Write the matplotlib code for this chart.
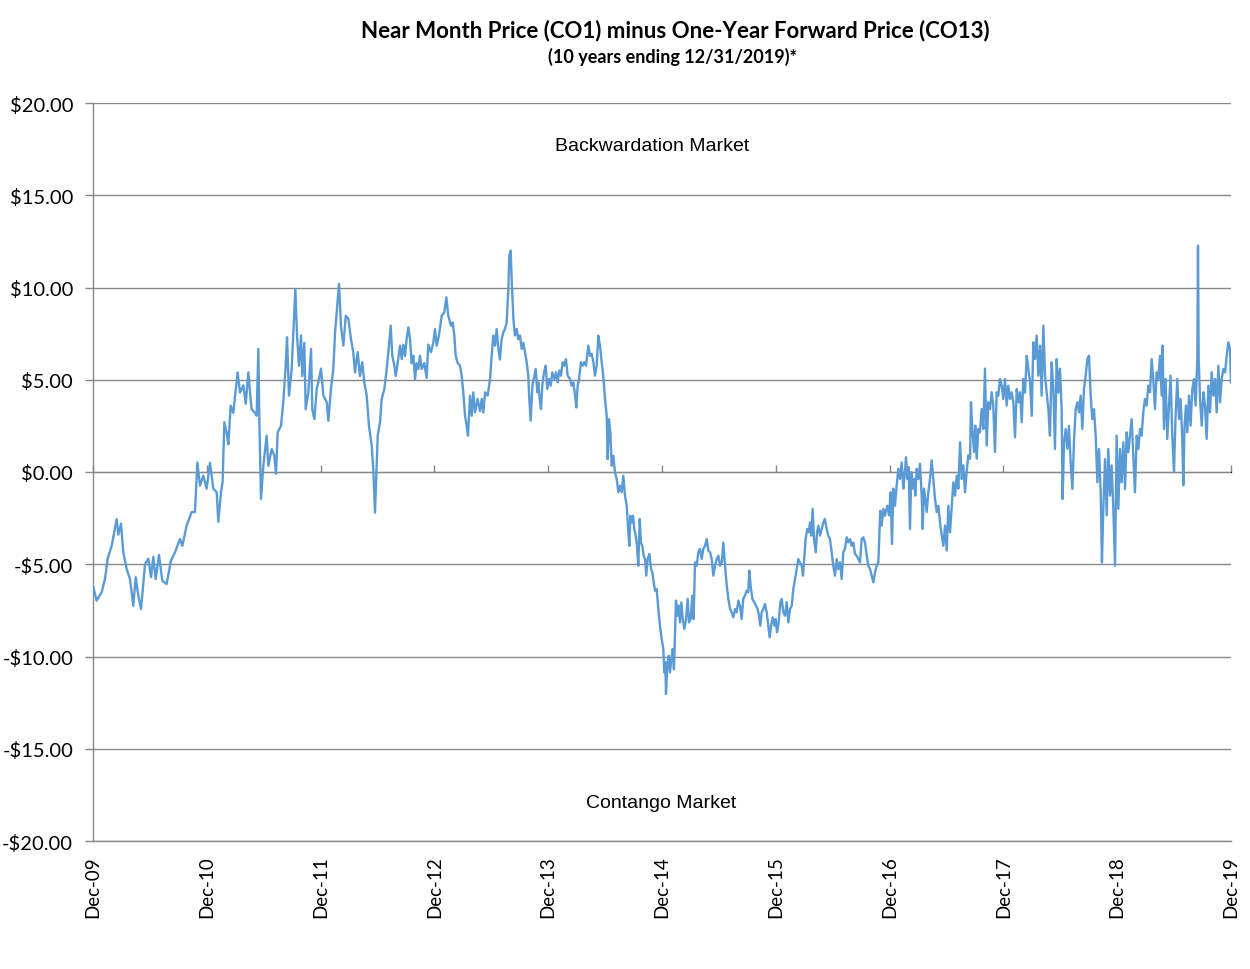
import matplotlib
matplotlib.use("Agg")
import matplotlib.pyplot as plt
import numpy as np

# ---------------- data (years since Dec-09, spread in $) ----------------
t_2010 = [0.000, 0.032, 0.076, 0.105, 0.129, 0.164, 0.208, 0.222, 0.246, 0.266,
          0.296, 0.325, 0.354, 0.375, 0.398, 0.422, 0.457, 0.486, 0.510, 0.530,
          0.551, 0.580, 0.609, 0.647, 0.685, 0.721, 0.764, 0.785, 0.823, 0.867,
          0.896, 0.917, 0.940, 0.969, 0.999, 1.028, 1.057, 1.087, 1.101, 1.125,
          1.139, 1.154, 1.175, 1.189, 1.210, 1.233]
v_2010 = [-6.16, -6.97, -6.52, -5.80, -4.70, -4.00, -2.55, -3.40, -2.80, -4.35,
          -5.26, -5.80, -7.25, -5.70, -6.70, -7.43, -5.00, -4.70, -5.70, -4.60,
          -5.80, -4.50, -5.90, -6.07, -4.80, -4.35, -3.63, -4.00, -2.90, -2.17,
          -2.17, 0.52, -0.74, -0.20, -0.90, 0.50, -0.90, -1.10, -2.70, -1.10,
          -0.50, 2.70, 2.10, 1.50, 3.60, 3.20]

t_2011 = [1.248, 1.271, 1.292, 1.321, 1.342, 1.365, 1.380, 1.394, 1.424, 1.438,
          1.453, 1.462, 1.476, 1.497, 1.526, 1.541, 1.570, 1.593, 1.608, 1.623,
          1.652, 1.672, 1.693, 1.705, 1.722, 1.746, 1.766, 1.778, 1.793, 1.810,
          1.828, 1.839, 1.857, 1.869, 1.892, 1.916, 1.927, 1.945, 1.966, 1.986,
          2.004, 2.024, 2.054, 2.068, 2.091, 2.112, 2.127, 2.144, 2.162, 2.179,
          2.200, 2.221, 2.244, 2.267, 2.287, 2.302, 2.326, 2.346, 2.366, 2.384,
          2.405, 2.425, 2.449, 2.463, 2.478]
v_2011 = [4.10, 5.40, 4.30, 4.70, 3.70, 5.40, 4.30, 3.40, 3.20, 3.05,
          6.67, 2.70, -1.46, 0.34, 1.97, 0.34, 1.25, 0.90, -0.10, 2.15,
          2.50, 3.78, 5.76, 7.30, 4.14, 5.60, 8.30, 9.92, 7.40, 5.76,
          7.40, 5.20, 7.00, 3.40, 4.30, 6.67, 3.40, 2.87, 4.50, 5.04,
          5.60, 4.14, 3.78, 2.78, 4.50, 5.60, 7.57, 8.83, 10.20, 7.90,
          6.85, 8.47, 8.30, 7.20, 6.50, 5.40, 6.50, 5.20, 5.95, 4.86,
          4.14, 2.50, 1.43, 0.16, -2.20]

t_2012 = [2.502, 2.522, 2.537, 2.560, 2.581, 2.601, 2.616, 2.630, 2.648, 2.660,
          2.677, 2.698, 2.713, 2.727, 2.742, 2.756, 2.771, 2.786, 2.800, 2.815,
          2.830, 2.844, 2.859, 2.873, 2.888, 2.911, 2.932, 2.946, 2.970, 2.990,
          3.005, 3.020, 3.040, 3.064, 3.087, 3.105, 3.122, 3.146, 3.161, 3.175,
          3.187, 3.205, 3.225, 3.240, 3.254, 3.269, 3.284, 3.295, 3.313, 3.328,
          3.342, 3.357, 3.380, 3.401, 3.416, 3.430, 3.445, 3.468, 3.489, 3.503,
          3.518, 3.533, 3.547, 3.562, 3.576, 3.591, 3.606, 3.620, 3.635, 3.650,
          3.658, 3.670, 3.679, 3.694, 3.708]
v_2012 = [1.97, 2.70, 3.96, 4.50, 5.58, 6.85, 7.93, 6.30, 5.76, 5.20,
          5.90, 6.85, 6.12, 6.90, 6.30, 7.20, 7.84, 7.20, 5.90, 6.30,
          5.04, 5.90, 5.58, 6.30, 5.58, 5.90, 5.10, 6.90, 6.50, 7.00,
          7.75, 6.85, 7.40, 8.47, 8.65, 9.47, 8.47, 7.93, 8.10, 7.40,
          6.30, 5.90, 5.76, 5.20, 4.32, 3.05, 2.50, 1.97, 4.14, 3.05,
          4.32, 3.23, 3.96, 3.30, 3.96, 3.23, 4.32, 4.14, 5.04, 6.30,
          7.40, 6.85, 7.75, 6.68, 6.10, 7.20, 7.57, 7.75, 8.10, 9.92,
          11.72, 12.00, 10.46, 8.30, 7.40]

t_2013 = [3.723, 3.737, 3.752, 3.767, 3.781, 3.796, 3.811, 3.825, 3.834, 3.846,
          3.861, 3.878, 3.890, 3.905, 3.913, 3.925, 3.937, 3.948, 3.963, 3.978,
          3.992, 4.007, 4.022, 4.036, 4.054, 4.069, 4.083, 4.098, 4.112, 4.127,
          4.142, 4.156, 4.171, 4.192, 4.206, 4.221, 4.236, 4.247, 4.259, 4.271,
          4.288, 4.303, 4.317, 4.332, 4.353, 4.367, 4.382, 4.397, 4.411, 4.426,
          4.440, 4.455, 4.470, 4.484, 4.499, 4.514, 4.523, 4.534, 4.546, 4.558,
          4.572, 4.587, 4.602, 4.617, 4.631, 4.646, 4.660, 4.675, 4.690]
v_2013 = [7.75, 7.20, 7.40, 6.67, 7.00, 6.50, 5.95, 5.22, 3.96, 2.78,
          4.68, 5.22, 5.58, 4.32, 4.86, 3.96, 3.41, 4.68, 5.40, 5.76,
          4.50, 5.04, 4.68, 5.40, 5.04, 5.40, 4.86, 5.50, 5.22, 5.95,
          5.76, 6.12, 5.22, 5.04, 4.68, 4.86, 4.14, 3.50, 4.68, 5.04,
          5.95, 5.76, 5.95, 5.76, 6.85, 6.30, 6.40, 5.95, 5.22, 5.76,
          7.39, 6.85, 5.95, 5.22, 3.96, 3.05, 0.70, 2.87, 2.15, 0.34,
          0.88, -0.02, -0.38, -1.10, -0.74, -1.10, -0.20, -1.28, -1.83]

t_2014 = [4.704, 4.713, 4.722, 4.734, 4.745, 4.757, 4.769, 4.780, 4.792, 4.804,
          4.815, 4.827, 4.839, 4.851, 4.862, 4.874, 4.889, 4.904, 4.915, 4.927,
          4.939, 4.953, 4.968, 4.982, 4.997, 5.012, 5.020, 5.029, 5.035, 5.047,
          5.059, 5.070, 5.082, 5.094, 5.105, 5.114, 5.123, 5.135, 5.147, 5.158,
          5.170, 5.182, 5.196, 5.211, 5.226, 5.237, 5.252, 5.266, 5.278, 5.290,
          5.305, 5.319, 5.334, 5.349, 5.363, 5.378, 5.393, 5.407, 5.422, 5.437,
          5.451, 5.466, 5.481, 5.495, 5.510, 5.525, 5.539, 5.554, 5.569, 5.583,
          5.598, 5.613, 5.627, 5.642, 5.656, 5.671, 5.685, 5.700, 5.714, 5.729]
v_2014 = [-3.27, -4.00, -2.37, -2.73, -2.37, -3.09, -3.45, -4.00, -5.08, -2.55,
          -3.82, -4.00, -4.54, -4.72, -5.62, -4.72, -4.45, -5.26, -5.44, -5.98,
          -6.43, -6.34, -7.43, -8.33, -9.05, -9.60, -10.86, -10.30, -12.03, -10.50,
          -9.96, -10.86, -10.14, -9.60, -10.70, -8.87, -6.97, -7.79, -7.25, -8.15,
          -7.07, -7.97, -8.51, -7.97, -6.88, -8.15, -7.97, -6.70, -7.97, -4.90,
          -5.08, -4.35, -4.17, -4.72, -4.17, -4.00, -3.63, -4.26, -4.35, -4.72,
          -5.62, -5.08, -4.72, -4.54, -5.08, -4.90, -3.82, -5.08, -6.16, -6.88,
          -7.43, -7.61, -7.88, -7.43, -7.61, -6.97, -7.25, -7.97, -6.88, -6.70]

t_2015 = [5.744, 5.758, 5.767, 5.779, 5.794, 5.811, 5.826, 5.841, 5.852, 5.864,
          5.876, 5.890, 5.905, 5.920, 5.934, 5.946, 5.958, 5.973, 5.987, 5.999,
          6.011, 6.025, 6.040, 6.052, 6.066, 6.081, 6.096, 6.110, 6.125, 6.140,
          6.154, 6.169, 6.184, 6.198, 6.213, 6.228, 6.239, 6.251, 6.262, 6.277,
          6.289, 6.301, 6.312, 6.324, 6.336, 6.351, 6.362, 6.374, 6.388, 6.403,
          6.418, 6.432, 6.447, 6.461, 6.476, 6.491, 6.505, 6.520, 6.535, 6.549,
          6.564, 6.579, 6.593, 6.608, 6.623, 6.637, 6.652, 6.667, 6.681, 6.696,
          6.711, 6.725, 6.740, 6.755, 6.769, 6.784, 6.799, 6.813, 6.828, 6.843,
          6.857, 6.872, 6.887, 6.901, 6.910, 6.918, 6.930, 6.945, 6.960]
v_2015 = [-6.43, -6.52, -5.35, -6.16, -6.88, -7.06, -7.25, -7.43, -7.79, -8.33,
          -7.60, -7.43, -7.15, -7.60, -8.33, -8.96, -8.33, -7.88, -8.33, -7.97,
          -8.69, -8.15, -7.06, -6.88, -7.60, -7.79, -7.06, -8.15, -7.43, -7.25,
          -6.34, -5.80, -5.26, -4.72, -4.90, -5.08, -5.62, -4.54, -3.63, -3.09,
          -3.27, -2.73, -3.45, -2.00, -3.63, -4.35, -3.27, -2.91, -3.45, -3.09,
          -2.73, -2.55, -3.09, -3.45, -3.63, -4.35, -5.08, -5.62, -4.72, -5.26,
          -4.90, -5.80, -4.35, -4.17, -3.54, -3.82, -3.63, -4.00, -3.82, -4.45,
          -4.54, -4.72, -4.90, -3.63, -3.54, -3.82, -4.54, -5.08, -5.26, -5.62,
          -5.98, -5.44, -5.08, -4.90, -3.45, -2.10, -2.91, -2.00, -2.37]

t_2017 = [6.965, 6.980, 6.995, 7.009, 7.021, 7.033, 7.047, 7.062, 7.077, 7.091,
          7.106, 7.121, 7.132, 7.144, 7.156, 7.168, 7.179, 7.191, 7.203, 7.214,
          7.226, 7.238, 7.253, 7.267, 7.282, 7.291, 7.302, 7.314, 7.326, 7.340,
          7.355, 7.370, 7.384, 7.399, 7.414, 7.428, 7.443, 7.458, 7.472, 7.487,
          7.502, 7.516, 7.531, 7.546, 7.560, 7.575, 7.590, 7.604, 7.619, 7.634,
          7.648, 7.663, 7.677, 7.692, 7.707, 7.715, 7.727, 7.742, 7.753, 7.765,
          7.780, 7.794, 7.809, 7.824, 7.838, 7.853, 7.868, 7.882, 7.897, 7.911,
          7.926, 7.941, 7.955, 7.970, 7.985, 7.999, 8.014, 8.029, 8.043, 8.058,
          8.073, 8.087, 8.102, 8.117, 8.131, 8.146]
v_2017 = [-2.17, -1.83, -2.35, -1.10, -3.90, -0.90, -1.83, -0.74, 0.17, -0.38,
          0.52, -0.90, -0.20, 0.80, -0.38, 0.27, -3.09, 0.00, -0.90, -0.38,
          -1.28, 0.17, -0.38, 0.45, -1.28, -3.09, -0.90, -1.46, -2.17, -1.10,
          -0.38, 0.63, -0.38, -1.46, -2.17, -1.83, -2.73, -3.45, -4.00, -2.90,
          -4.26, -1.83, -3.27, -1.83, -0.56, -1.28, -0.20, -0.90, 1.61, -0.38,
          0.36, -1.10, 0.00, 0.90, 0.72, 3.78, 2.33, 1.09, 2.51, 0.72,
          2.33, 2.15, 3.41, 2.33, 5.60, 1.43, 3.78, 3.41, 4.32, 3.60,
          1.09, 4.32, 4.14, 5.04, 4.68, 3.96, 5.04, 3.60, 4.68, 3.96,
          4.32, 3.78, 1.88, 4.50, 3.78, 4.32]

t_2018 = [8.161, 8.175, 8.190, 8.205, 8.219, 8.234, 8.249, 8.263, 8.278, 8.292,
          8.307, 8.322, 8.336, 8.351, 8.366, 8.380, 8.395, 8.409, 8.424, 8.439,
          8.453, 8.468, 8.483, 8.497, 8.512, 8.520, 8.533, 8.547, 8.562, 8.576,
          8.591, 8.606, 8.620, 8.635, 8.650, 8.664, 8.679, 8.694, 8.708, 8.723,
          8.738, 8.752, 8.767, 8.781, 8.796, 8.811, 8.826, 8.840, 8.855, 8.866,
          8.878, 8.893, 8.908, 8.922, 8.937, 8.951, 8.966, 8.981, 8.995, 9.010,
          9.025, 9.039, 9.054, 9.069, 9.083, 9.098, 9.112]
v_2018 = [2.70, 5.04, 4.30, 6.30, 5.60, 4.90, 3.05, 7.03, 6.12, 7.39,
          5.22, 6.85, 4.14, 7.93, 5.22, 4.30, 3.41, 1.97, 5.95, 4.50,
          1.25, 6.12, 4.30, 5.60, 3.41, -1.46, 1.61, 2.33, 1.25, 2.50,
          0.52, -0.92, 1.61, 3.41, 3.78, 3.23, 4.14, 2.33, 4.50, 5.22,
          6.12, 6.30, 4.14, 2.87, 3.41, 1.97, -0.56, 1.25, -1.10, -4.90,
          -2.00, 0.70, -2.35, 1.25, -1.28, 0.36, -2.00, -5.08, 1.97, -2.00,
          1.25, -0.56, 1.61, -0.92, 2.15, 1.07, 1.97]

t_2019 = [9.127, 9.142, 9.156, 9.171, 9.186, 9.200, 9.215, 9.229, 9.244, 9.259,
          9.273, 9.288, 9.303, 9.317, 9.332, 9.347, 9.361, 9.376, 9.391, 9.399,
          9.411, 9.425, 9.440, 9.455, 9.469, 9.484, 9.499, 9.513, 9.528, 9.543,
          9.557, 9.572, 9.581, 9.592, 9.604, 9.616, 9.631, 9.645, 9.660, 9.675,
          9.689, 9.704, 9.710, 9.716, 9.728, 9.743, 9.757, 9.772, 9.786, 9.801,
          9.816, 9.830, 9.845, 9.860, 9.874, 9.889, 9.904, 9.918, 9.933, 9.948,
          9.962, 9.977, 9.991, 10.000]
v_2019 = [2.87, 0.88, -1.10, 1.97, 1.25, 2.33, 1.97, 3.23, 3.96, 3.60,
          4.68, 4.32, 6.12, 5.04, 3.41, 5.40, 5.04, 6.30, 4.14, 6.85,
          2.33, 5.04, 1.79, 3.60, 5.22, 1.97, 0.00, 3.05, 5.04, 2.87,
          3.96, 1.79, -0.72, 2.51, 3.60, 2.15, 4.14, 2.51, 4.50, 5.04,
          3.60, 6.12, 12.27, 6.12, 3.96, 2.51, 4.32, 3.60, 1.79, 4.68,
          3.23, 5.40, 4.14, 5.04, 3.23, 5.76, 3.78, 5.04, 5.58, 5.40,
          6.30, 7.03, 6.67, 4.86]

x_tick_labels = ["Dec-09", "Dec-10", "Dec-11", "Dec-12", "Dec-13", "Dec-14",
                 "Dec-15", "Dec-16", "Dec-17", "Dec-18", "Dec-19"]
y_tick_values = [-20, -15, -10, -5, 0, 5, 10, 15, 20]

title = "Near Month Price (CO1) minus One-Year Forward Price (CO13)"
subtitle = "(10 years ending 12/31/2019)*"

# ---------------- build ----------------
t_parts = [t_2010, t_2011, t_2012, t_2013, t_2014, t_2015, t_2017, t_2018, t_2019]
v_parts = [v_2010, v_2011, v_2012, v_2013, v_2014, v_2015, v_2017, v_2018, v_2019]
for a, b in zip(t_parts, v_parts):
    assert len(a) == len(b), (len(a), len(b))
t = np.concatenate(t_parts)
v = np.concatenate(v_parts)

W, H = 1250, 970
fig = plt.figure(figsize=(W / 100, H / 100), dpi=100)
fig.patch.set_facecolor("white")

L, R, T, B = 93, 1231, 104, 842
ax = fig.add_axes([L / W, 1 - B / H, (R - L) / W, (B - T) / H])

grid_c = "#878787"
ax.plot(t, v, color="#5B9BD5", lw=1.7, solid_joinstyle="round", zorder=3)

ax.set_xlim(0, 10)
ax.set_ylim(-20, 20)

ax.set_yticks(y_tick_values)
ax.set_yticklabels([("-$%.2f" % abs(y)) if y < 0 else ("$%.2f" % y) for y in y_tick_values],
                   family="Lato", fontsize=14.5)
ax.yaxis.grid(True, color=grid_c, lw=1.0)
ax.set_axisbelow(True)
ax.tick_params(axis="y", length=5.8, width=1.0, color=grid_c, pad=8.5, labelcolor="black")

ax.set_xticks(range(len(x_tick_labels)))
ax.set_xticklabels(x_tick_labels, rotation=90, family="Lato", fontsize=13.5)
ax.tick_params(axis="x", length=0, pad=10)

for s in ["top", "right"]:
    ax.spines[s].set_visible(False)
for s in ["left", "bottom"]:
    ax.spines[s].set_color(grid_c)
    ax.spines[s].set_linewidth(1.0)

# tick marks on the zero line
sec = ax.secondary_xaxis(0.5)
sec.set_xticks(range(len(x_tick_labels)))
sec.set_xticklabels([])
sec.tick_params(axis="x", direction="out", length=5, width=1.0, color=grid_c)
sec.spines["bottom"].set_visible(False)

ax.text(0.491, 0.942, "Backwardation Market", transform=ax.transAxes,
        ha="center", va="center", family="Liberation Sans", fontsize=14)
ax.text(0.499, 0.052, "Contango Market", transform=ax.transAxes,
        ha="center", va="center", family="Liberation Sans", fontsize=14)

fig.text(675 / W, 1 - 31 / H, title, ha="center", va="center",
         family="Lato", fontweight="bold", fontsize=16)
fig.text(673 / W, 1 - 57 / H, subtitle, ha="center", va="center",
         family="Lato", fontweight="bold", fontsize=13)

fig.savefig("out.png", dpi=100, facecolor="white")
